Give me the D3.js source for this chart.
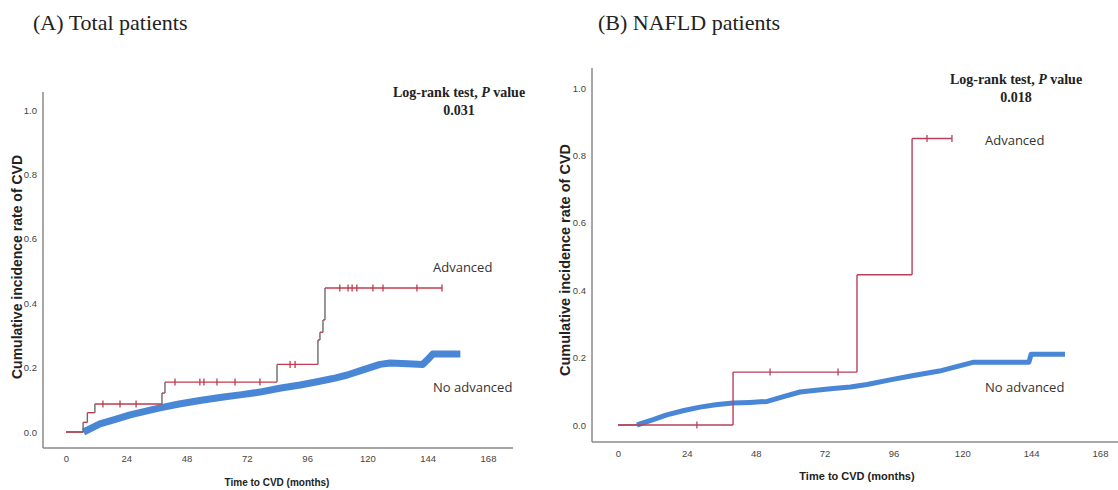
<!DOCTYPE html>
<html>
<head>
<meta charset="utf-8">
<script src="https://cdn.jsdelivr.net/npm/d3@7"></script>
<style>
  body { margin: 0; background: #fff; }
  svg { display: block; }
</style>
</head>
<body>
<svg id="chart" width="1118" height="490"></svg>
<script>
// ticks
const monthTicks = [0, 24, 48, 72, 96, 120, 144, 168];
const rateTicks = [0, 0.2, 0.4, 0.6, 0.8, 1.0];

// (A) total patients - advanced group
const totalAdvTime = [0, 6.8, 8.5, 11.5, 38.2, 39.4, 84, 100.3, 101.1, 102.3, 103.1, 149.7];
const totalAdvRate = [0, 0.03, 0.06, 0.087, 0.121, 0.155, 0.21, 0.286, 0.31, 0.348, 0.447, 0.447];
const totalAdvCensor = [14.7, 21.5, 27.9, 43.4, 53.3, 54.9, 60.1, 67.3, 77.2, 89.2, 91.2, 109, 112.3, 113.9, 115.8, 122.2, 126.2, 139.7, 149.7];

// (A) total patients - no advanced group
const totalNoAdvTime = [7, 13.5, 20, 25.5, 31, 37.4, 45, 53.3, 62, 70, 77.2, 85, 93.2, 100, 106.3, 112, 117, 125, 129, 136, 142, 144, 146, 157];
const totalNoAdvRate = [0, 0.025, 0.04, 0.053, 0.063, 0.075, 0.087, 0.098, 0.108, 0.116, 0.124, 0.136, 0.146, 0.156, 0.166, 0.177, 0.19, 0.21, 0.214, 0.212, 0.21, 0.225, 0.242, 0.242];

// (B) NAFLD patients - advanced group
const nafldAdvTime = [0, 40.1, 83.3, 102.5, 116.4];
const nafldAdvRate = [0, 0.157, 0.446, 0.85, 0.85];
const nafldAdvCensor = [27.5, 53, 76.7, 107.7, 116.4];

// (B) NAFLD patients - no advanced group
const nafldNoAdvTime = [6.6, 12, 17, 23, 28.6, 34, 40, 46, 52, 58, 63.4, 69, 75, 81, 86.8, 94.8, 103, 112, 118, 123.7, 133, 143.2, 144, 155.8];
const nafldNoAdvRate = [0, 0.015, 0.03, 0.043, 0.053, 0.06, 0.065, 0.067, 0.07, 0.085, 0.098, 0.103, 0.108, 0.113, 0.12, 0.134, 0.147, 0.16, 0.173, 0.186, 0.186, 0.186, 0.21, 0.21];

const svg = d3.select("#chart");

function stepValue(times, rates, t) {
  const i = d3.bisectRight(times, t) - 1;
  return rates[Math.max(0, i)];
}

function drawPanel(p) {
  const x = d3.scaleLinear().domain([0, 168]).range(p.xRange);
  const y = d3.scaleLinear().domain([0, 1]).range(p.yRange);
  const g = svg.append("g");

  // title
  g.append("text")
    .attr("x", p.titleX).attr("y", 30)
    .attr("font-family", "Liberation Serif, Times New Roman, serif")
    .attr("font-size", 22).attr("fill", "#222")
    .text(p.title);

  // axes
  const ax = g.append("g")
    .attr("transform", `translate(0,${p.axisY})`)
    .call(d3.axisBottom(x).tickValues(monthTicks).tickSize(0).tickPadding(p.xPad));
  ax.select(".domain").remove();
  ax.selectAll("text").attr("font-family", "Liberation Sans Narrow, Liberation Sans, Arial, sans-serif").attr("font-size", 9.5).attr("fill", "#444");

  const ay = g.append("g")
    .attr("transform", `translate(${p.axisX},0)`)
    .call(d3.axisLeft(y).tickValues(rateTicks).tickFormat(d3.format(".1f")).tickSize(0).tickPadding(6));
  ay.select(".domain").remove();
  ay.selectAll("text").attr("font-family", "Liberation Sans Narrow, Liberation Sans, Arial, sans-serif").attr("font-size", 9.5).attr("fill", "#444");

  g.append("line")
    .attr("x1", p.axisX).attr("x2", p.xEnd).attr("y1", p.axisY).attr("y2", p.axisY)
    .attr("stroke", "#8a8a8a").attr("stroke-width", 1.5);
  g.append("line")
    .attr("x1", p.axisX).attr("x2", p.axisX).attr("y1", p.yTop).attr("y2", p.axisY)
    .attr("stroke", "#8a8a8a").attr("stroke-width", 1.5);

  // axis titles
  g.append("text")
    .attr("x", (p.xRange[0] + p.xRange[1]) / 2 + p.xTitleShift).attr("y", p.axisY + 38)
    .attr("text-anchor", "middle")
    .attr("font-family", "Liberation Sans, Arial, sans-serif")
    .attr("font-size", p.xTitleSize).attr("font-weight", "bold").attr("fill", "#222")
    .text("Time to CVD (months)");
  g.append("text")
    .attr("transform", `translate(${p.yTitleX},${p.yTitleY}) rotate(-90)`)
    .attr("text-anchor", "middle")
    .attr("font-family", "Liberation Sans, Arial, sans-serif")
    .attr("font-size", p.yTitleSize).attr("font-weight", "bold").attr("fill", "#222")
    .text("Cumulative incidence rate of CVD");

  // no advanced curve (thick blue band)
  const noAdv = p.noAdvTime.map((t, i) => [t, p.noAdvRate[i]]);
  g.append("path")
    .datum(noAdv)
    .attr("d", d3.line().x(d => x(d[0])).y(d => y(d[1])))
    .attr("fill", "none").attr("stroke", "#4a86d6")
    .attr("stroke-width", p.blueWidth).attr("stroke-linejoin", "round");

  // baseline before the no-advanced curve starts
  g.append("line")
    .attr("x1", x(0)).attr("x2", x(p.noAdvTime[0]))
    .attr("y1", y(0)).attr("y2", y(0))
    .attr("stroke", "#555").attr("stroke-width", 1.3);

  // advanced curve: horizontal and vertical parts
  const t = p.advTime, r = p.advRate;
  for (let i = 0; i < t.length - 1; i++) {
    g.append("line")
      .attr("x1", x(t[i])).attr("x2", x(t[i + 1]))
      .attr("y1", y(r[i])).attr("y2", y(r[i]))
      .attr("stroke", p.advColor).attr("stroke-width", 1.4);
    g.append("line")
      .attr("x1", x(t[i + 1])).attr("x2", x(t[i + 1]))
      .attr("y1", y(r[i])).attr("y2", y(r[i + 1]))
      .attr("stroke", p.riserColor).attr("stroke-width", 1.4);
  }
  g.selectAll(".censor")
    .data(p.advCensor)
    .enter()
    .append("line")
      .attr("x1", d => x(d)).attr("x2", d => x(d))
      .attr("y1", d => y(stepValue(t, r, d)) - 3.5)
      .attr("y2", d => y(stepValue(t, r, d)) + 3.5)
      .attr("stroke", p.advColor).attr("stroke-width", 1.3);

  // labels
  g.append("text")
    .attr("x", p.advLabel[0]).attr("y", p.advLabel[1])
    .attr("font-family", "Open Sans, sans-serif").attr("font-size", 13).attr("fill", "#333")
    .text("Advanced");
  g.append("text")
    .attr("x", p.noAdvLabel[0]).attr("y", p.noAdvLabel[1])
    .attr("font-family", "Open Sans, sans-serif").attr("font-size", 13).attr("fill", "#333")
    .text("No advanced");

  // log-rank text
  const lr = g.append("text")
    .attr("text-anchor", "middle")
    .attr("font-family", "Liberation Serif, Times New Roman, serif")
    .attr("font-size", p.lrSize).attr("font-weight", "bold").attr("fill", "#222");
  const l1 = lr.append("tspan").attr("x", p.lrX).attr("y", p.lrY);
  l1.append("tspan").text("Log-rank test, ");
  l1.append("tspan").attr("font-style", "italic").text("P");
  l1.append("tspan").text(" value");
  lr.append("tspan").attr("x", p.lrX).attr("y", p.lrY + 18).text(p.pValue);
}

drawPanel({
  title: "(A) Total patients", titleX: 33,
  xRange: [66, 488], yRange: [432, 110],
  axisX: 43, axisY: 448, yTop: 92, xEnd: 513, xPad: 7,
  xTitleShift: 0, yTitleX: 22, yTitleY: 267, xTitleSize: 10, yTitleSize: 14,
  advTime: totalAdvTime, advRate: totalAdvRate, advCensor: totalAdvCensor,
  noAdvTime: totalNoAdvTime, noAdvRate: totalNoAdvRate,
  advColor: "#c23a4c", riserColor: "#6a6a6a", blueWidth: 7,
  advLabel: [433, 272], noAdvLabel: [433, 392],
  lrX: 459, lrY: 97, lrSize: 14, pValue: "0.031"
});

drawPanel({
  title: "(B) NAFLD patients", titleX: 598,
  xRange: [618, 1100], yRange: [425, 88],
  axisX: 592, axisY: 442, yTop: 68, xEnd: 1118, xPad: 8,
  xTitleShift: -2, yTitleX: 570, yTitleY: 260, xTitleSize: 11, yTitleSize: 14.5,
  advTime: nafldAdvTime, advRate: nafldAdvRate, advCensor: nafldAdvCensor,
  noAdvTime: nafldNoAdvTime, noAdvRate: nafldNoAdvRate,
  advColor: "#b8405a", riserColor: "#b8405a", blueWidth: 5,
  advLabel: [985, 145], noAdvLabel: [985, 392],
  lrX: 1016, lrY: 84, lrSize: 14, pValue: "0.018"
});
</script>
</body>
</html>
